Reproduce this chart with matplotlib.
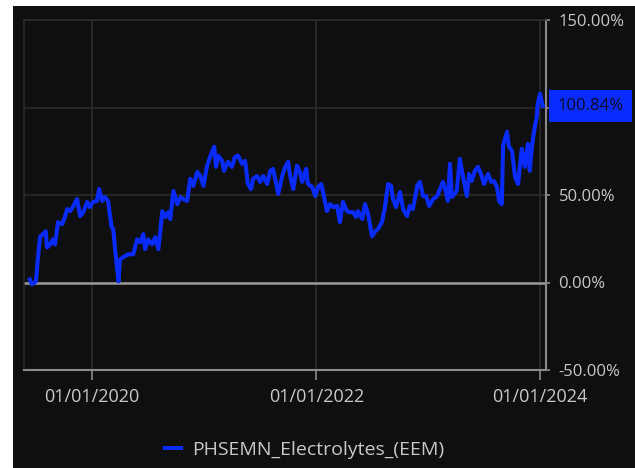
#!/usr/bin/env python3
"""
Cumulative return of PHSEMN_Electrolytes_(EEM), dark terminal-style chart
"""

import pandas as pd
import matplotlib.pyplot as plt
import matplotlib.dates as mdates
from matplotlib.ticker import FuncFormatter

# Series (cumulative return, %)
dates = [
    '2019-06-12', '2019-06-19', '2019-07-02', '2019-07-08', '2019-07-15', '2019-07-24',
    '2019-08-03', '2019-08-07', '2019-08-17', '2019-08-27', '2019-09-02', '2019-09-12',
    '2019-09-25', '2019-10-02', '2019-10-12', '2019-10-22', '2019-11-01', '2019-11-13',
    '2019-11-23', '2019-12-03', '2019-12-16', '2019-12-25', '2020-01-04', '2020-01-17',
    '2020-01-24', '2020-02-03', '2020-02-12', '2020-02-22', '2020-03-04', '2020-03-10',
    '2020-03-17', '2020-03-27', '2020-04-01', '2020-04-11', '2020-04-27', '2020-05-14',
    '2020-05-27', '2020-06-06', '2020-06-16', '2020-06-22', '2020-07-02', '2020-07-15',
    '2020-07-25', '2020-08-04', '2020-08-17', '2020-08-27', '2020-09-06', '2020-09-12',
    '2020-09-22', '2020-10-05', '2020-10-15', '2020-10-24', '2020-11-06', '2020-11-16',
    '2020-11-26', '2020-12-09', '2020-12-19', '2020-12-29', '2021-01-10', '2021-01-20',
    '2021-02-02', '2021-02-08', '2021-02-15', '2021-02-28', '2021-03-06', '2021-03-19',
    '2021-04-01', '2021-04-11', '2021-04-21', '2021-05-04', '2021-05-14', '2021-05-23',
    '2021-06-02', '2021-06-09', '2021-06-22', '2021-07-02', '2021-07-12', '2021-07-25',
    '2021-08-04', '2021-08-13', '2021-08-20', '2021-08-30', '2021-09-12', '2021-09-22',
    '2021-10-01', '2021-10-08', '2021-10-18', '2021-10-30', '2021-11-09', '2021-11-16',
    '2021-11-29', '2021-12-05', '2021-12-19', '2021-12-29', '2022-01-07', '2022-01-17',
    '2022-01-23', '2022-02-05', '2022-02-15', '2022-02-25', '2022-03-10', '2022-03-19',
    '2022-03-29', '2022-04-11', '2022-04-21', '2022-05-01', '2022-05-11', '2022-05-17',
    '2022-05-31', '2022-06-09', '2022-06-19', '2022-07-02', '2022-07-12', '2022-07-21',
    '2022-08-03', '2022-08-13', '2022-08-23', '2022-09-02', '2022-09-08', '2022-09-18',
    '2022-10-01', '2022-10-11', '2022-10-24', '2022-11-02', '2022-11-12', '2022-11-26',
    '2022-12-05', '2022-12-15', '2022-12-25', '2023-01-04', '2023-01-17', '2023-01-30',
    '2023-02-06', '2023-02-18', '2023-02-28', '2023-03-06', '2023-03-13', '2023-03-19',
    '2023-04-04', '2023-04-14', '2023-04-24', '2023-05-07', '2023-05-14', '2023-05-23',
    '2023-06-02', '2023-06-12', '2023-06-22', '2023-07-02', '2023-07-15', '2023-07-25',
    '2023-08-03', '2023-08-13', '2023-08-20', '2023-08-29', '2023-09-02', '2023-09-15',
    '2023-09-21', '2023-10-01', '2023-10-11', '2023-10-21', '2023-10-27', '2023-11-02',
    '2023-11-12', '2023-11-22', '2023-11-28', '2023-12-05', '2023-12-11', '2023-12-21',
    '2023-12-24', '2024-01-01', '2024-01-07', '2024-01-10',
]
returns = [
    1.7, -1.1, 0.6, 13.2, 25.9, 27.6,
    29.3, 20.1, 21.8, 24.7, 21.8, 34.5,
    33.3, 36.2, 42.0, 40.8, 43.7, 47.7,
    37.9, 40.2, 46.0, 43.1, 46.0, 46.6,
    53.4, 46.6, 48.8, 46.6, 32.2, 30.5,
    17.2, 0.6, 13.2, 14.4, 16.1, 16.1,
    24.7, 23.0, 27.6, 19.0, 24.7, 21.8,
    25.9, 19.0, 40.8, 37.4, 40.2, 36.2,
    52.3, 44.8, 48.8, 47.7, 46.6, 59.2,
    55.2, 63.2, 60.9, 55.2, 66.7, 71.8,
    77.6, 66.1, 72.4, 69.5, 63.8, 69.0,
    66.1, 71.8, 72.5, 67.8, 69.5, 56.3,
    53.4, 59.2, 60.9, 57.5, 60.9, 56.3,
    63.8, 64.9, 59.2, 50.6, 60.9, 66.1,
    69.0, 60.9, 53.4, 66.7, 63.2, 57.5,
    64.9, 56.3, 54.6, 49.4, 54.6, 56.3,
    51.7, 40.8, 44.8, 43.1, 43.7, 34.5,
    46.0, 40.8, 40.2, 40.2, 37.4, 40.8,
    36.2, 44.8, 39.1, 26.4, 29.3, 30.5,
    34.5, 43.1, 56.3, 55.2, 47.7, 43.1,
    51.7, 42.0, 37.9, 43.7, 42.0, 55.2,
    57.5, 49.4, 49.4, 43.7, 47.7, 49.4,
    52.3, 57.5, 51.7, 46.6, 67.8, 48.8,
    52.3, 70.7, 60.9, 49.4, 62.1, 58.0,
    63.8, 66.1, 62.1, 56.3, 62.1, 57.5,
    58.0, 54.6, 46.6, 44.8, 78.2, 86.2,
    77.6, 75.3, 60.3, 56.3, 66.7, 76.4,
    66.1, 79.3, 63.8, 77.6, 85.1, 94.8,
    102.3, 108.0, 102.3, 100.84,
]
series_name = 'PHSEMN_Electrolytes_(EEM)'
last_label = '100.84%'
y_ticks = [-50, 0, 50, 100, 150]
x_ticks = ['2020-01-01', '2022-01-01', '2024-01-01']

df = pd.DataFrame({'date': pd.to_datetime(dates), 'ret': returns})

bg = '#0f0f0f'
line_col = '#0a2bff'
text_col = '#c8c8c8'
grid_col = '#2e2e2e'
axis_col = '#8a8a8a'

plt.rcParams['font.family'] = ['Open Sans', 'DejaVu Sans']

fig = plt.figure(figsize=(6.35, 4.68), dpi=100, facecolor='white')
# dark panel (white margin on left and top as in the source screenshot)
panel = plt.Rectangle((13 / 635, 0), 1, 1 - 6 / 468, transform=fig.transFigure,
                      facecolor=bg, edgecolor='none', zorder=-10)
fig.patches.append(panel)

ax = fig.add_axes([24 / 635, 1 - 370 / 468, 522 / 635, 350 / 468])
ax.set_facecolor(bg)

ax.plot(df['date'], df['ret'], color=line_col, linewidth=2.9, label=series_name,
        solid_joinstyle='round', zorder=3)
ax.axhline(0, color='#9a9a9a', linewidth=1.8, zorder=2)

ax.set_ylim(-50, 150)
ax.set_xlim(pd.Timestamp('2019-05-24'), pd.Timestamp('2024-01-20'))
ax.set_yticks(y_ticks)
ax.set_xticks(pd.to_datetime(x_ticks))
ax.xaxis.set_major_formatter(mdates.DateFormatter('%m/%d/%Y'))
# the 100% label sits under the last-value badge in the reference
ax.yaxis.set_major_formatter(FuncFormatter(lambda v, p: '' if v == 100 else f'{v:.2f}%'))
ax.yaxis.tick_right()
ax.grid(True, color=grid_col, linewidth=1.1, zorder=1)

for side in ['left', 'top']:
    ax.spines[side].set_color(grid_col)
    ax.spines[side].set_linewidth(1.1)
for side in ['bottom', 'right']:
    ax.spines[side].set_color(axis_col)
    ax.spines[side].set_linewidth(1.5)

ax.tick_params(axis='x', colors=axis_col, labelcolor=text_col, labelsize=13,
               length=7, width=1.2, pad=6)
ax.tick_params(axis='y', colors=axis_col, labelcolor=text_col, labelsize=12,
               length=3, width=1.2, pad=6)

# last value badge on the right axis
ax.annotate(last_label, xy=(1, df['ret'].iloc[-1]), xycoords=('axes fraction', 'data'),
            xytext=(8, 0), textcoords='offset points', va='center', ha='left',
            fontsize=12, color='#0c0c22',
            bbox=dict(boxstyle='square,pad=0.5', facecolor=line_col, edgecolor='none'),
            annotation_clip=False, zorder=5)

fig.legend(loc='center', bbox_to_anchor=(0.48, 1 - 450 / 468), frameon=False,
           fontsize=14, labelcolor=text_col, handlelength=0.8, handletextpad=0.6)

fig.savefig('out.png', dpi=100, facecolor='white')
